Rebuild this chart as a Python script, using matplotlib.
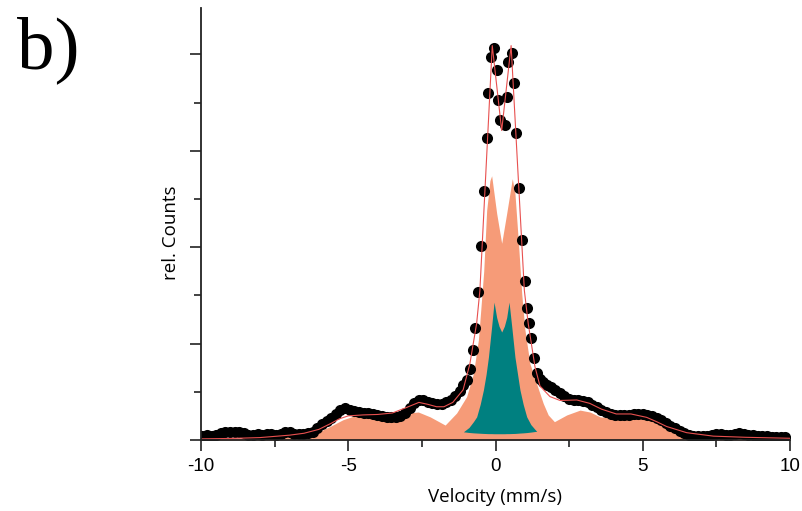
"""Mossbauer spectrum, panel b)."""

import matplotlib
matplotlib.use("Agg")
import matplotlib.pyplot as plt
from matplotlib.ticker import MultipleLocator, NullFormatter

plt.rcParams["axes.unicode_minus"] = False

# measured points (velocity mm/s, relative counts)
vel = [
    -9.95, -9.80, -9.64, -9.48, -9.33, -9.17, -9.02, -8.86, -8.70, -8.55,
    -8.39, -8.23, -8.08, -7.92, -7.77, -7.61, -7.45, -7.30, -7.14, -6.98,
    -6.83, -6.67, -6.52, -6.36, -6.20, -6.05, -5.89, -5.73, -5.58, -5.42,
    -5.27, -5.11, -4.95, -4.80, -4.64, -4.48, -4.33, -4.17, -4.02, -3.86,
    -3.70, -3.55, -3.39, -3.23, -3.08, -2.92, -2.77, -2.61, -2.45, -2.30,
    -2.14, -1.98, -1.83, -1.67, -1.52, -1.36, -1.20, -1.09,
    -0.98, -0.87, -0.75, -0.69, -0.60, -0.50, -0.39, -0.30, -0.24, -0.16,
    -0.05, 0.04, 0.10, 0.15, 0.32, 0.38, 0.43, 0.55, 0.63, 0.71,
    0.81, 0.91, 0.99, 1.06, 1.14, 1.21, 1.31,
    1.40, 1.50, 1.62, 1.75, 1.88, 2.03, 2.19, 2.34, 2.50, 2.66,
    2.81, 2.97, 3.13, 3.28, 3.44, 3.59, 3.75, 3.91, 4.06, 4.22,
    4.38, 4.53, 4.69, 4.84, 5.00, 5.16, 5.31, 5.47, 5.63, 5.78,
    5.94, 6.09, 6.25, 6.41, 6.56, 6.72, 6.88, 7.03, 7.19, 7.34,
    7.50, 7.66, 7.81, 7.97, 8.13, 8.28, 8.44, 8.59, 8.75, 8.91,
    9.06, 9.22, 9.38, 9.53, 9.69, 9.84,
]
counts = [
    0.04, 0.05, 0.04, 0.05, 0.07, 0.08, 0.085, 0.08, 0.08, 0.07,
    0.05, 0.055, 0.06, 0.055, 0.06, 0.06, 0.055, 0.06, 0.08, 0.085,
    0.065, 0.06, 0.065, 0.075, 0.085, 0.12, 0.17, 0.20, 0.23, 0.27,
    0.31, 0.33, 0.31, 0.30, 0.29, 0.28, 0.28, 0.27, 0.26, 0.25,
    0.24, 0.235, 0.24, 0.25, 0.28, 0.33, 0.38, 0.41, 0.41, 0.39,
    0.38, 0.37, 0.37, 0.39, 0.42, 0.46, 0.51, 0.57,
    0.62, 0.74, 0.93, 1.16, 1.53, 2.01, 2.58, 3.13, 3.60, 3.97,
    4.07, 3.84, 3.53, 3.32, 3.27, 3.56, 3.92, 4.01, 3.70, 3.18,
    2.61, 2.07, 1.65, 1.37, 1.21, 1.06, 0.85,
    0.70, 0.63, 0.60, 0.57, 0.55, 0.52, 0.49, 0.46, 0.43, 0.42,
    0.41, 0.40, 0.39, 0.36, 0.34, 0.31, 0.29, 0.27, 0.26, 0.26,
    0.255, 0.26, 0.265, 0.27, 0.27, 0.26, 0.25, 0.23, 0.21, 0.18,
    0.15, 0.12, 0.09, 0.07, 0.055, 0.045, 0.045, 0.04, 0.045, 0.05,
    0.06, 0.06, 0.05, 0.05, 0.06, 0.07, 0.065, 0.055, 0.05, 0.045,
    0.04, 0.04, 0.035, 0.035, 0.03, 0.03,
]

# total fit envelope
fit_vel = [
    -10.0, -9.0, -8.0, -7.0, -6.5, -6.0, -5.6, -5.3, -5.0, -4.5,
    -4.0, -3.5, -3.0, -2.6, -2.3, -2.0, -1.75, -1.45, -1.1, -0.87,
    -0.64, -0.53, -0.11, 0.21, 0.53, 0.98, 1.11, 1.34, 1.51, 1.85,
    2.19, 2.76, 3.2, 3.6, 4.1, 4.6, 5.13, 5.47, 5.81, 6.49,
    7.4, 8.5, 10.0,
]
fit_counts = [
    0.012, 0.016, 0.025, 0.05, 0.07, 0.11, 0.17, 0.22, 0.25, 0.26,
    0.265, 0.28, 0.34, 0.39, 0.37, 0.345, 0.345, 0.39, 0.52, 0.79,
    1.21, 1.55, 4.09, 3.21, 4.09, 1.55, 1.21, 0.76, 0.56, 0.45,
    0.41, 0.415, 0.38, 0.32, 0.27, 0.27, 0.235, 0.19, 0.14, 0.076,
    0.04, 0.028, 0.018,
]

# sub-spectrum 1 (salmon)
comp1_vel = [
    -10.0, -9.0, -8.0, -7.0, -6.5, -6.07, -5.62, -5.18, -4.70, -4.26,
    -3.58, -3.00, -2.62, -2.22, -1.71, -1.32, -0.98, -0.75, -0.58, -0.50,
    -0.40, -0.30, -0.19, -0.13, 0.04, 0.21, 0.38, 0.57, 0.66, 0.78,
    0.89, 1.00, 1.17, 1.40, 1.62, 1.79, 2.00, 2.42, 2.87, 3.21,
    3.55, 4.00, 4.46, 4.85, 5.36, 6.04, 6.72, 7.62, 8.8, 10.0,
]
comp1_counts = [
    0.015, 0.018, 0.022, 0.035, 0.05, 0.076, 0.14, 0.21, 0.26, 0.25,
    0.24, 0.28, 0.29, 0.24, 0.155, 0.28, 0.45, 0.69, 1.04, 1.35,
    1.75, 2.38, 2.69, 2.74, 2.35, 2.04, 2.35, 2.71, 2.56, 2.04,
    1.52, 1.14, 0.79, 0.58, 0.38, 0.26, 0.19, 0.26, 0.31, 0.29,
    0.24, 0.225, 0.235, 0.245, 0.19, 0.10, 0.06, 0.034, 0.024, 0.018,
]

# sub-spectrum 2 (teal)
comp2_vel = [
    -1.09, -0.90, -0.75, -0.64, -0.52, -0.41, -0.32, -0.24, -0.13, -0.05,
    0.04, 0.12, 0.21, 0.30, 0.38, 0.46, 0.55, 0.66, 0.75, 0.83,
    0.94, 1.06, 1.20, 1.34, 1.40,
]
comp2_counts = [
    0.085, 0.13, 0.19, 0.24, 0.37, 0.52, 0.68, 0.86, 1.18, 1.43,
    1.27, 1.18, 1.12, 1.18, 1.27, 1.43, 1.18, 0.86, 0.68, 0.52,
    0.37, 0.24, 0.16, 0.11, 0.09,
]
comp2_base = [
    0.085, 0.078, 0.074, 0.072, 0.07, 0.068, 0.067, 0.066, 0.066, 0.065,
    0.065, 0.065, 0.065, 0.065, 0.066, 0.066, 0.067, 0.068, 0.07, 0.072,
    0.074, 0.077, 0.082, 0.088, 0.09,
]

fig = plt.figure(figsize=(8.02, 5.11), dpi=100)
ax = fig.add_axes([201 / 802, 71 / 511, 589 / 802, 432 / 511])

ax.fill_between(comp1_vel, 0, comp1_counts, color="#F69B78", linewidth=0)
ax.fill_between(comp2_vel, comp2_base, comp2_counts, color="#008080", linewidth=0)
ax.plot(vel, counts, "o", color="black", markersize=8, markeredgewidth=0)
ax.plot(fit_vel, fit_counts, color="#E8504F", linewidth=0.8)

ax.set_xlim(-10, 10)
ax.set_ylim(0, 4.48)
ax.xaxis.set_major_locator(MultipleLocator(5))
ax.xaxis.set_minor_locator(MultipleLocator(2.5))
ax.yaxis.set_major_locator(MultipleLocator(1))
ax.yaxis.set_minor_locator(MultipleLocator(0.5))
ax.yaxis.set_major_formatter(NullFormatter())

for side in ("top", "right"):
    ax.spines[side].set_visible(False)
for side in ("left", "bottom"):
    ax.spines[side].set_linewidth(1.3)
    ax.spines[side].set_color("#222222")

ax.tick_params(which="major", direction="out", length=8, width=1.2, color="#222222")
ax.tick_params(which="minor", direction="out", length=5, width=1.2, color="#222222")
ax.tick_params(axis="x", labelsize=13.5, pad=5)
for lbl in ax.get_xticklabels():
    lbl.set_family("Liberation Sans")

ax.set_xlabel("Velocity (mm/s)", fontsize=13.5, family="Open Sans", labelpad=9)
ax.set_ylabel("rel. Counts", fontsize=13.5, family="Open Sans")
ax.yaxis.set_label_coords(-0.036, 0.48)

fig.text(17 / 802, 1 - 68 / 511, "b)", fontsize=54, family="Liberation Serif", va="baseline")

fig.savefig("out.png", dpi=100)
plt.close(fig)
